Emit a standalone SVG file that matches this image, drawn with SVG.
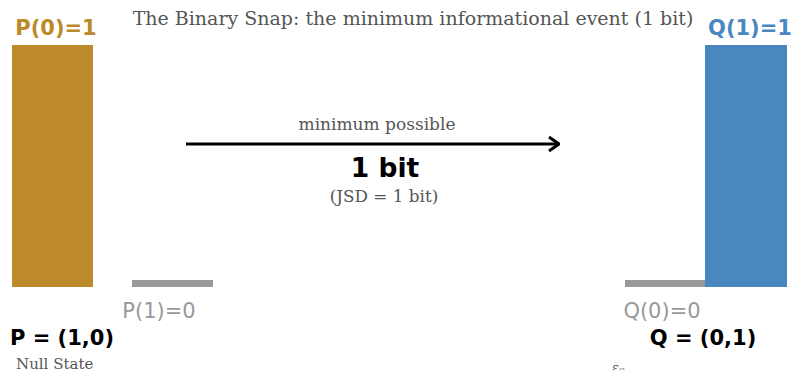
<svg xmlns="http://www.w3.org/2000/svg" width="795" height="370" viewBox="0 0 795 370">
<style>
.serif{font-family:"DejaVu Serif","Liberation Serif",serif;fill:#555}
.sans{font-family:"DejaVu Sans","Liberation Sans",sans-serif}
.b{font-weight:bold}
.g{fill:#999}
</style>
<defs>
<marker id="ah" viewBox="0 0 12 16" refX="11" refY="8" markerWidth="12" markerHeight="16" markerUnits="userSpaceOnUse" orient="auto">
<path d="M1,1 L11,8 L1,15" fill="none" stroke="#000" stroke-width="3"/>
</marker>
</defs>
<rect width="795" height="370" fill="#fff"/>
<text class="serif" x="413" y="25" font-size="19" text-anchor="middle">The Binary Snap: the minimum informational event (1 bit)</text>
<g id="P">
<rect x="12" y="45" width="81" height="242" fill="#BC8A2A"/>
<rect x="132" y="280" width="81" height="7" fill="#999"/>
<text class="sans b" x="56" y="35" font-size="21" text-anchor="middle" fill="#BC8A2A">P(0)=1</text>
<text class="sans g" x="159" y="318" font-size="21" text-anchor="middle">P(1)=0</text>
<text class="sans b" x="10" y="345" font-size="21" fill="#000">P = (1,0)</text>
<text class="serif" x="16" y="369" font-size="15">Null State</text>
</g>
<g id="Q">
<rect x="705" y="45" width="82" height="242" fill="#4A87C0"/>
<rect x="625" y="280" width="80" height="7" fill="#999"/>
<text class="sans b" x="750" y="35" font-size="21" text-anchor="middle" fill="#4A87C0">Q(1)=1</text>
<text class="sans g" x="662" y="318" font-size="21" text-anchor="middle">Q(0)=0</text>
<text class="sans b" x="703" y="345" font-size="21" text-anchor="middle" fill="#000">Q = (0,1)</text>
<text class="serif" x="612" y="373" font-size="14">ε₀</text>
</g>
<g id="connectors">
<line x1="186" y1="144" x2="559" y2="144" stroke="#000" stroke-width="3" marker-end="url(#ah)"/>
<text class="serif" x="377" y="130" font-size="17" text-anchor="middle">minimum possible</text>
<text class="sans b" x="385" y="177" font-size="26.5" text-anchor="middle" fill="#000">1 bit</text>
<text class="serif" x="384" y="202" font-size="16.8" text-anchor="middle">(JSD = 1 bit)</text>
</g>
</svg>
